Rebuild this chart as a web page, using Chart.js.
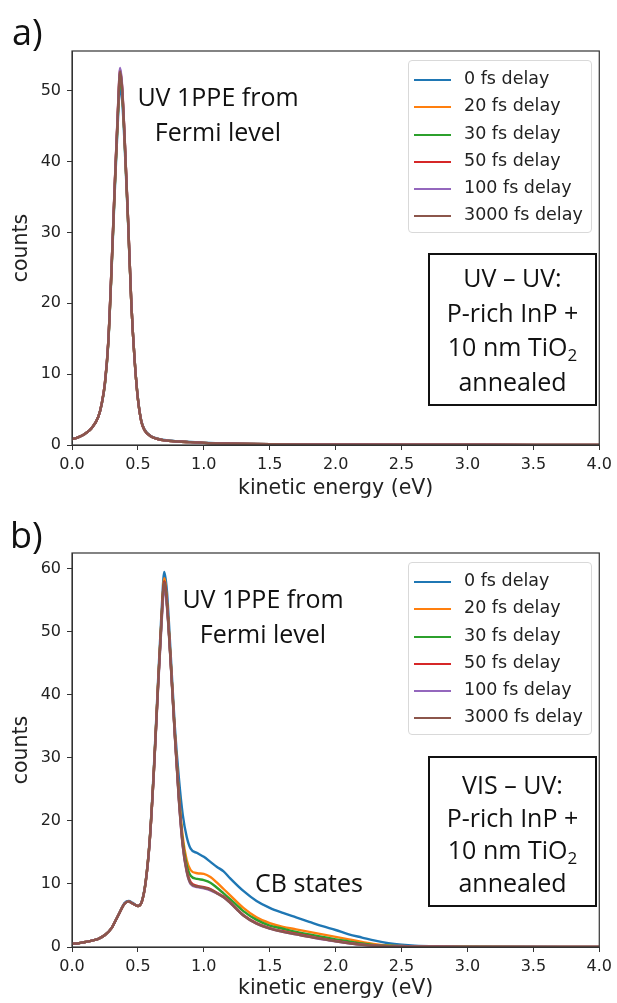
<!DOCTYPE html>
<html>
<head>
<meta charset="utf-8">
<script src="https://cdn.jsdelivr.net/npm/chart.js@4.4.0/dist/chart.umd.min.js"></script>
<style>
  body { margin: 0; background: #fff; }
  #page { position: relative; width: 617px; height: 1003px; overflow: hidden; }
  .panel { position: absolute; left: 0; width: 617px; }
  .panel canvas { position: absolute; left: 0; top: 0; }
  .tag { position: absolute; font-family: "Open Sans", sans-serif; font-size: 36px; color: #111; line-height: 1; }
  .note { position: absolute; font-family: "Open Sans", sans-serif; font-size: 25px; line-height: 35px; color: #111; text-align: center; }
  .box { position: absolute; box-sizing: border-box; border: 2px solid #111; font-family: "Open Sans", sans-serif; font-size: 25px; color: #111; text-align: center; }
  .box sub { font-size: 17px; vertical-align: -5px; line-height: 0; }
  .legend { position: absolute; box-sizing: border-box; width: 184px; height: 173px; border: 1px solid #d9d9d9; border-radius: 4px; background: rgba(255,255,255,0.8); padding-top: 4px; }
  .legend .row { position: relative; height: 27.3px; font-family: "DejaVu Sans", sans-serif; font-size: 17.5px; color: #222; }
  .legend .swatch { position: absolute; left: 5px; top: 14px; width: 37px; height: 2px; }
  .legend .label { position: absolute; left: 55px; top: 3px; white-space: nowrap; }
</style>
</head>
<body>
<div id="page">
  <div class="panel" id="panelA" style="top:0;height:500px;">
    <canvas id="chartA" width="617" height="500"></canvas>
    <div class="tag" style="left:12px;top:14px;">a)</div>
    <div class="note" style="left:98px;top:79px;width:240px;">UV 1PPE from<br>Fermi level</div>
    <div class="legend" id="legendA" style="left:408px;top:60px;"></div>
    <div class="box" style="left:428px;top:253px;width:169px;height:153px;line-height:34.5px;padding-top:5px;">UV – UV:<br>P-rich InP +<br>10 nm TiO<sub>2</sub><br>annealed</div>
  </div>
  <div class="panel" id="panelB" style="top:500px;height:503px;">
    <canvas id="chartB" width="617" height="503"></canvas>
    <div class="tag" style="left:10px;top:17px;">b)</div>
    <div class="note" style="left:143px;top:81px;width:240px;">UV 1PPE from<br>Fermi level</div>
    <div class="note" style="left:229px;top:365px;width:160px;">CB states</div>
    <div class="legend" id="legendB" style="left:408px;top:62px;"></div>
    <div class="box" style="left:428px;top:256px;width:169px;height:151px;line-height:32.7px;padding-top:10px;">VIS – UV:<br>P-rich InP +<br>10 nm TiO<sub>2</sub><br>annealed</div>
  </div>
</div>
<script>
// series names and colours (matplotlib default cycle)
const seriesNames = ["0 fs delay", "20 fs delay", "30 fs delay", "50 fs delay", "100 fs delay", "3000 fs delay"];
const seriesColors = ["#1f77b4", "#ff7f0e", "#2ca02c", "#d62728", "#9467bd", "#8c564b"];
const xTicks = [0, 0.5, 1, 1.5, 2, 2.5, 3, 3.5, 4];

// a) UV - UV
const energyA = [0, 0.05, 0.1, 0.15, 0.2, 0.225, 0.25, 0.275, 0.3, 0.325, 0.35, 0.365, 0.38, 0.4, 0.425, 0.45, 0.475, 0.5, 0.525, 0.55, 0.6, 0.65, 0.7, 0.8, 0.9, 1.0, 1.2, 1.5, 2.0, 2.5, 3.0, 3.5, 4.0];
const a0fs    = [0.8, 1.1, 1.6, 2.4, 4.0, 5.7, 8.6, 14.2, 24.5, 36, 46.5, 50.6, 48.8, 42, 31.5, 20, 12.1, 6.6, 3.5, 2.2, 1.25, 0.9, 0.7, 0.52, 0.42, 0.32, 0.21, 0.13, 0.08, 0.05, 0.03, 0.02, 0.02];
const a20fs   = [0.8, 1.1, 1.6, 2.4, 4.0, 5.8, 8.7, 14.4, 24.8, 36.8, 47.6, 52.5, 50.2, 42.8, 31.8, 20, 12, 6.5, 3.4, 2.1, 1.2, 0.85, 0.65, 0.5, 0.4, 0.3, 0.2, 0.12, 0.08, 0.05, 0.03, 0.02, 0.02];
const a30fs   = [0.8, 1.1, 1.6, 2.4, 4.0, 5.8, 8.7, 14.4, 24.8, 36.7, 47.4, 52.2, 50.0, 42.7, 31.8, 20, 12, 6.5, 3.4, 2.1, 1.2, 0.85, 0.65, 0.5, 0.4, 0.3, 0.2, 0.12, 0.08, 0.05, 0.03, 0.02, 0.02];
const a50fs   = [0.8, 1.1, 1.6, 2.4, 4.0, 5.8, 8.8, 14.5, 25, 37, 48, 53.0, 50.5, 43, 32, 20, 12, 6.5, 3.4, 2.1, 1.2, 0.85, 0.65, 0.5, 0.4, 0.3, 0.2, 0.12, 0.08, 0.05, 0.03, 0.02, 0.02];
const a100fs  = [0.8, 1.1, 1.6, 2.4, 4.0, 5.8, 8.8, 14.6, 25.2, 37.2, 48.2, 53.2, 50.8, 43.2, 32.1, 20.1, 12, 6.5, 3.4, 2.1, 1.2, 0.85, 0.65, 0.5, 0.4, 0.3, 0.2, 0.12, 0.08, 0.05, 0.03, 0.02, 0.02];
const a3000fs = [0.8, 1.1, 1.6, 2.4, 4.0, 5.8, 8.8, 14.5, 25, 36.9, 47.8, 52.7, 50.4, 43, 32, 20, 12, 6.5, 3.4, 2.1, 1.2, 0.85, 0.65, 0.5, 0.4, 0.3, 0.2, 0.12, 0.08, 0.05, 0.03, 0.02, 0.02];

// b) VIS - UV
const energyB = [0, 0.05, 0.1, 0.15, 0.2, 0.25, 0.3, 0.35, 0.4, 0.43, 0.46, 0.5, 0.53, 0.56, 0.59, 0.62, 0.65, 0.68, 0.7, 0.72, 0.75, 0.78, 0.81, 0.84, 0.87, 0.9, 0.95, 1.0, 1.05, 1.1, 1.15, 1.2, 1.3, 1.4, 1.5, 1.6, 1.7, 1.8, 1.9, 2.0, 2.1, 2.2, 2.3, 2.4, 2.5, 2.6, 2.8, 3.0, 3.5, 4.0];
const b0fs    = [0.5, 0.6, 0.8, 1.0, 1.3, 1.9, 3.0, 5.0, 7.0, 7.3, 7.0, 6.5, 7.3, 10.6, 17.2, 28, 41, 53.5, 59.5, 56.5, 46, 35, 27, 21, 17.5, 15.6, 14.9, 14.3, 13.5, 12.7, 12.0, 10.9, 8.9, 7.3, 6.2, 5.4, 4.7, 4.0, 3.3, 2.7, 2.0, 1.5, 1.0, 0.6, 0.35, 0.2, 0.1, 0.06, 0.03, 0.02];
const b20fs   = [0.5, 0.6, 0.8, 1.0, 1.3, 1.9, 3.0, 5.0, 6.9, 7.2, 6.9, 6.5, 7.2, 10.5, 17, 27.5, 40.5, 52.5, 58.5, 55, 45, 34, 24.5, 17.5, 13.8, 12.2, 11.7, 11.6, 11.1, 10.2, 9.2, 8.2, 6.2, 4.7, 3.8, 3.2, 2.8, 2.4, 2.0, 1.6, 1.2, 0.8, 0.45, 0.25, 0.15, 0.1, 0.06, 0.04, 0.02, 0.02];
const b30fs   = [0.5, 0.6, 0.8, 1.0, 1.3, 1.9, 3.0, 5.0, 6.9, 7.2, 6.9, 6.5, 7.2, 10.5, 17, 27.5, 40.3, 52.3, 58, 54.5, 44.8, 33.8, 24, 16.8, 13, 11.3, 10.8, 10.6, 10.2, 9.4, 8.5, 7.6, 5.7, 4.3, 3.4, 2.9, 2.4, 2.0, 1.6, 1.2, 0.9, 0.55, 0.3, 0.2, 0.12, 0.08, 0.05, 0.03, 0.02, 0.02];
const b50fs   = [0.5, 0.6, 0.8, 1.0, 1.3, 1.9, 3.0, 5.0, 6.9, 7.2, 6.9, 6.5, 7.2, 10.5, 17, 27.5, 40.3, 52.3, 58, 54.6, 44.8, 33.8, 23.8, 16.3, 12.2, 10.3, 9.7, 9.5, 9.2, 8.6, 8.0, 7.1, 5.1, 3.8, 3.0, 2.5, 2.1, 1.7, 1.3, 0.95, 0.65, 0.38, 0.22, 0.13, 0.08, 0.05, 0.03, 0.02, 0.02, 0.02];
const b100fs  = [0.5, 0.6, 0.8, 1.0, 1.3, 1.9, 3.0, 5.0, 6.9, 7.2, 6.9, 6.5, 7.2, 10.4, 16.8, 27.2, 39.8, 51.5, 57, 54, 44.5, 33.5, 23.5, 16, 11.9, 10.0, 9.5, 9.3, 9.0, 8.5, 7.9, 7.0, 5.0, 3.7, 2.9, 2.4, 2.0, 1.6, 1.2, 0.9, 0.6, 0.35, 0.2, 0.12, 0.08, 0.05, 0.03, 0.02, 0.02, 0.02];
const b3000fs = [0.5, 0.6, 0.8, 1.0, 1.3, 1.9, 3.0, 5.0, 6.9, 7.2, 6.9, 6.5, 7.2, 10.5, 17, 27.4, 40, 52, 57.8, 54.3, 44.6, 33.6, 23.6, 16.1, 12.0, 10.1, 9.6, 9.4, 9.1, 8.5, 7.9, 7.0, 5.0, 3.7, 2.9, 2.4, 2.0, 1.6, 1.25, 0.9, 0.6, 0.35, 0.2, 0.12, 0.08, 0.05, 0.03, 0.02, 0.02, 0.02];

const font = "'DejaVu Sans', sans-serif";

// box round the plot area, like matplotlib spines
const framePlugin = {
  id: "frame",
  afterDraw(chart) {
    const { ctx, chartArea: a } = chart;
    ctx.save();
    ctx.strokeStyle = "#333";
    ctx.lineWidth = 1.2;
    ctx.strokeRect(a.left, a.top, a.right - a.left, a.bottom - a.top);
    ctx.restore();
  }
};

function makeChart(id, energies, series, yMax, padTop, xAxisHeight, titlePad) {
  const datasets = series.map((vals, i) => ({
    label: seriesNames[i],
    data: vals.map((v, j) => ({ x: energies[j], y: v })),
    borderColor: seriesColors[i],
    borderWidth: 2.4,
    pointRadius: 0,
    cubicInterpolationMode: "monotone",
    order: series.length - i // later series drawn on top
  }));

  return new Chart(document.getElementById(id), {
    type: "line",
    data: { datasets },
    options: {
      responsive: false,
      animation: false,
      layout: { padding: { top: padTop, right: 12, left: 0, bottom: 0 } },
      plugins: { legend: { display: false }, tooltip: { enabled: false } },
      scales: {
        x: {
          type: "linear",
          min: 0,
          max: 4,
          afterBuildTicks: (s) => { s.ticks = xTicks.map(v => ({ value: v })); },
          afterFit: (s) => { s.height = xAxisHeight; },
          grid: { drawOnChartArea: false, tickLength: 5, color: "#333" },
          border: { color: "#333" },
          ticks: {
            callback: (v) => v.toFixed(1),
            font: { family: font, size: 16 },
            color: "#222",
            padding: 5,
            maxRotation: 0
          },
          title: {
            display: true,
            text: "kinetic energy (eV)",
            font: { family: font, size: 20.5, lineHeight: 1 },
            color: "#222",
            padding: { top: 0, bottom: titlePad }
          }
        },
        y: {
          min: 0,
          max: yMax,
          afterFit: (s) => { s.width = 72; },
          grid: { drawOnChartArea: false, tickLength: 5, color: "#333" },
          border: { color: "#333" },
          ticks: {
            stepSize: 10,
            includeBounds: false,
            font: { family: font, size: 16 },
            color: "#222",
            padding: 6
          },
          title: {
            display: true,
            text: "counts",
            font: { family: font, size: 20.5, lineHeight: 1 },
            color: "#222",
            padding: { top: 11, bottom: 0 }
          }
        }
      }
    },
    plugins: [framePlugin]
  });
}

function makeLegend(id, chart) {
  const box = document.getElementById(id);
  chart.data.datasets.forEach((ds) => {
    const row = document.createElement("div");
    row.className = "row";
    const sw = document.createElement("div");
    sw.className = "swatch";
    sw.style.background = ds.borderColor;
    const lb = document.createElement("div");
    lb.className = "label";
    lb.textContent = ds.label;
    row.appendChild(sw);
    row.appendChild(lb);
    box.appendChild(row);
  });
}

const chartA = makeChart("chartA", energyA, [a0fs, a20fs, a30fs, a50fs, a100fs, a3000fs], 55.6, 51, 55, 1);
const chartB = makeChart("chartB", energyB, [b0fs, b20fs, b30fs, b50fs, b100fs, b3000fs], 62.5, 53, 56, 4);
makeLegend("legendA", chartA);
makeLegend("legendB", chartB);
</script>
</body>
</html>
